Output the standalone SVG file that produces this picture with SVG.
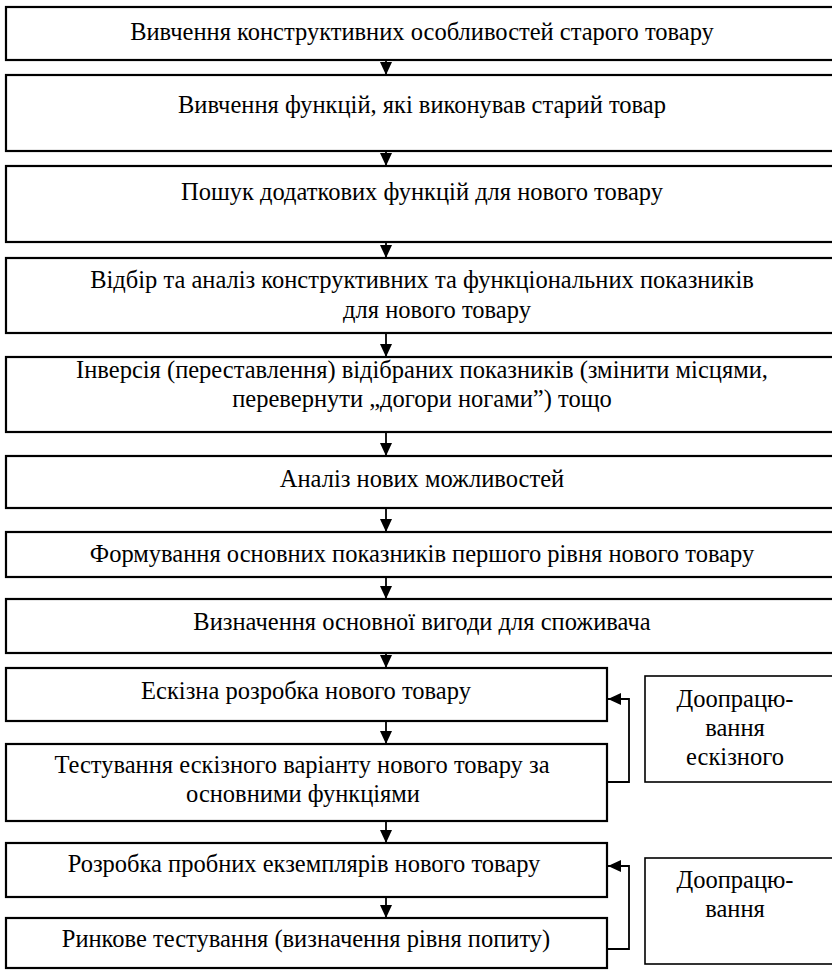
<svg xmlns="http://www.w3.org/2000/svg" width="832" height="971" viewBox="0 0 832 971">
<style>
.box{fill:#fff;stroke:#000;stroke-width:2.2}
.side{fill:#fff;stroke:#000;stroke-width:1.6}
.t{font-size:24.5px;fill:#000;text-anchor:middle}
.ln{fill:none;stroke:#000;stroke-width:1.8}
</style>
<defs>
<marker id="ah" markerUnits="userSpaceOnUse" markerWidth="14" markerHeight="12" refX="13" refY="6" orient="auto">
<path d="M0,0 L13,6 L0,12 Z" fill="#000"/>
</marker>
</defs>
<g id="connectors">
<line class="ln" x1="386" y1="61" x2="386" y2="75" marker-end="url(#ah)"/>
<line class="ln" x1="386" y1="152" x2="386" y2="166" marker-end="url(#ah)"/>
<line class="ln" x1="386" y1="243" x2="386" y2="258" marker-end="url(#ah)"/>
<line class="ln" x1="386" y1="334" x2="386" y2="357" marker-end="url(#ah)"/>
<line class="ln" x1="386" y1="433" x2="386" y2="456" marker-end="url(#ah)"/>
<line class="ln" x1="386" y1="509" x2="386" y2="532" marker-end="url(#ah)"/>
<line class="ln" x1="386" y1="578" x2="386" y2="599" marker-end="url(#ah)"/>
<line class="ln" x1="386" y1="654" x2="386" y2="668" marker-end="url(#ah)"/>
<line class="ln" x1="386" y1="722" x2="386" y2="744" marker-end="url(#ah)"/>
<line class="ln" x1="386" y1="822" x2="386" y2="843" marker-end="url(#ah)"/>
<line class="ln" x1="386" y1="898" x2="386" y2="918" marker-end="url(#ah)"/>
<polyline class="ln" points="608,782 629,782 629,699 608,699" marker-end="url(#ah)"/>
<polyline class="ln" points="608,949 629,949 629,866 608,866" marker-end="url(#ah)"/>
</g>
<g id="n1"><rect class="box" x="6" y="7" width="834" height="53"/><text class="t" font-family="Liberation Serif" x="422" y="40">Вивчення конструктивних особливостей старого товару</text></g>
<g id="n2"><rect class="box" x="6" y="75" width="834" height="76"/><text class="t" font-family="Liberation Serif" x="422" y="113">Вивчення функцій, які виконував старий товар</text></g>
<g id="n3"><rect class="box" x="6" y="166" width="834" height="76"/><text class="t" font-family="Liberation Serif" x="422" y="200">Пошук додаткових функцій для нового товару</text></g>
<g id="n4"><rect class="box" x="6" y="258" width="834" height="75"/><text class="t" font-family="Liberation Serif" x="422" y="288">Відбір та аналіз конструктивних та функціональних показників</text><text class="t" font-family="Liberation Serif" x="437" y="318">для нового товару</text></g>
<g id="n5"><rect class="box" x="6" y="357" width="834" height="75"/><text class="t" font-family="Liberation Serif" x="422" y="378">Інверсія (переставлення) відібраних показників (змінити місцями,</text><text class="t" font-family="Liberation Serif" x="422" y="407">перевернути „догори ногами”) тощо</text></g>
<g id="n6"><rect class="box" x="6" y="456" width="834" height="52"/><text class="t" font-family="Liberation Serif" x="422" y="487">Аналіз нових можливостей</text></g>
<g id="n7"><rect class="box" x="6" y="532" width="834" height="45"/><text class="t" font-family="Liberation Serif" x="422" y="562">Формування основних показників першого рівня нового товару</text></g>
<g id="n8"><rect class="box" x="6" y="599" width="834" height="54"/><text class="t" font-family="Liberation Serif" x="422" y="630">Визначення основної вигоди для споживача</text></g>
<g id="n9"><rect class="box" x="6" y="668" width="601" height="53"/><text class="t" font-family="Liberation Serif" x="306" y="699">Ескізна розробка нового товару</text></g>
<g id="n10"><rect class="box" x="6" y="744" width="601" height="77"/><text class="t" font-family="Liberation Serif" x="302" y="773">Тестування ескізного варіанту нового товару за</text><text class="t" font-family="Liberation Serif" x="303" y="802">основними функціями</text></g>
<g id="n11"><rect class="box" x="6" y="843" width="601" height="54"/><text class="t" font-family="Liberation Serif" x="304" y="872">Розробка пробних екземплярів нового товару</text></g>
<g id="n12"><rect class="box" x="6" y="918" width="601" height="50"/><text class="t" font-family="Liberation Serif" x="306" y="947">Ринкове тестування (визначення рівня попиту)</text></g>
<g id="s1"><rect class="side" x="645" y="676" width="195" height="106"/><text class="t" font-family="Liberation Serif" x="735" y="707">Доопрацю-</text><text class="t" font-family="Liberation Serif" x="735" y="736">вання</text><text class="t" font-family="Liberation Serif" x="735" y="765">ескізного</text></g>
<g id="s2"><rect class="side" x="645" y="858" width="195" height="106"/><text class="t" font-family="Liberation Serif" x="735" y="888">Доопрацю-</text><text class="t" font-family="Liberation Serif" x="735" y="917">вання</text></g>
</svg>
